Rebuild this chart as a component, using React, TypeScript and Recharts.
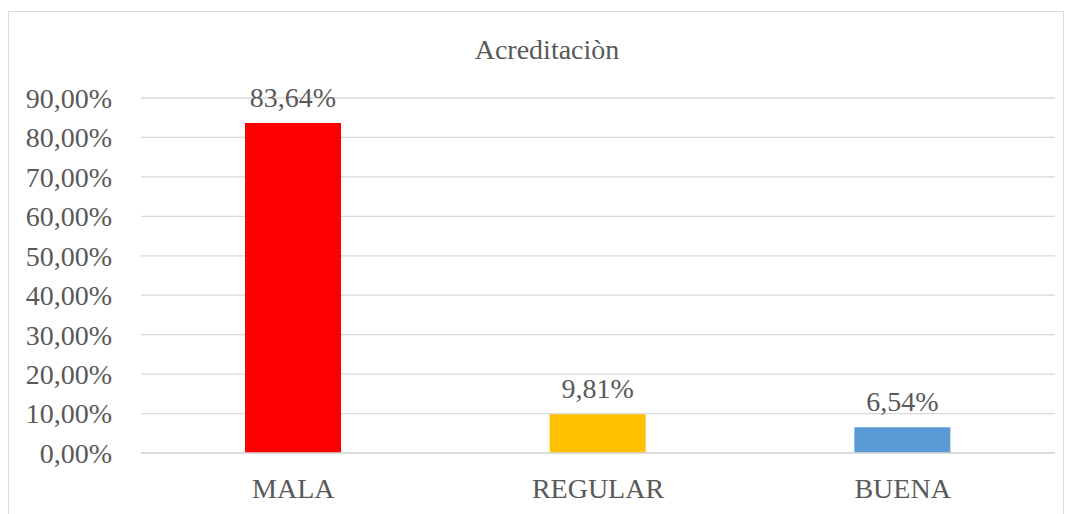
import React from "react";
import { BarChart, Bar, XAxis, YAxis, CartesianGrid, LabelList, Cell } from "recharts";

const categories = ["MALA", "REGULAR", "BUENA"];
const values = [0.8364, 0.0981, 0.0654];
const colors = ["#FF0000", "#FFC000", "#5B9BD5"];
const yTicks = [0, 0.1, 0.2, 0.3, 0.4, 0.5, 0.6, 0.7, 0.8, 0.9];
const title = "Acreditaciòn";

const data = categories.map((c, i) => ({ name: c, value: values[i] }));

const fmt = (v: number) => (v * 100).toFixed(2).replace(".", ",") + "%";

const FONT = "Liberation Serif";
const TEXT = "#595959";

export default function App() {
  return (
    <div style={{ position: "absolute", left: 0, top: 0, width: 1070, height: 514, background: "#fff", overflow: "hidden", fontFamily: FONT }}>
      <div
        style={{
          position: "absolute",
          left: 8,
          top: 11,
          width: 1056,
          height: 520,
          border: "1px solid #d9d9d9",
          boxSizing: "border-box",
        }}
      />
      <div
        style={{
          position: "absolute",
          left: 347,
          width: 400,
          top: 33,
          textAlign: "center",
          fontFamily: FONT,
          fontSize: 28,
          color: TEXT,
          lineHeight: "34px",
        }}
      >
        {title}
      </div>
      <div style={{ position: "absolute", left: 0, top: 0 }}>
        <BarChart
          width={1070}
          height={514}
          data={data}
          margin={{ top: 98, right: 15, bottom: 0, left: 0 }}
          style={{ fontFamily: FONT }}
        >
          <CartesianGrid vertical={false} stroke="#d9d9d9" strokeWidth={1.3} />
          <XAxis
            dataKey="name"
            height={61}
            tickSize={0}
            tickMargin={25}
            axisLine={{ stroke: "#d9d9d9", strokeWidth: 1.3 }}
            tick={{ fill: TEXT, fontSize: 28, fontFamily: FONT }}
          />
          <YAxis
            width={141}
            domain={[0, 0.9]}
            ticks={yTicks}
            tickFormatter={fmt}
            axisLine={false}
            tickSize={0}
            tickMargin={29}
            tick={{ fill: TEXT, fontSize: 28, fontFamily: FONT }}
          />
          <Bar dataKey="value" barSize={96} isAnimationActive={false}>
            {data.map((d, i) => (
              <Cell key={d.name} fill={colors[i]} />
            ))}
            <LabelList
              dataKey="value"
              position="top"
              offset={16}
              formatter={(v: any) => fmt(Number(v))}
              fill={TEXT}
              fontSize={28}
              fontFamily={FONT}
            />
          </Bar>
        </BarChart>
      </div>
    </div>
  );
}
